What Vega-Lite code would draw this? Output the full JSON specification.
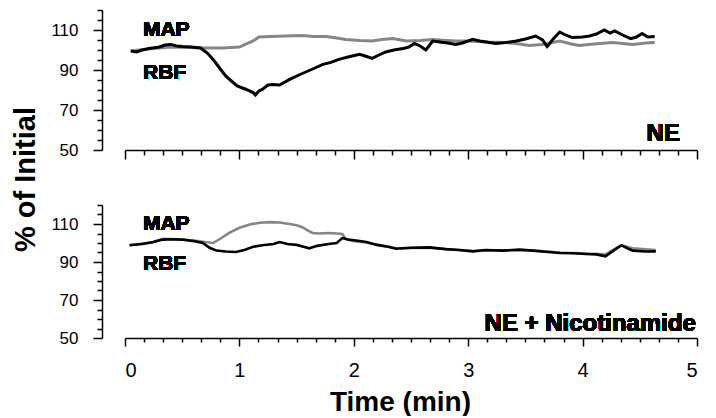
{
  "$schema": "https://vega.github.io/schema/vega-lite/v6.json",
  "padding": {"left": 11, "top": 9, "right": 6, "bottom": 0},
  "bounds": "flush",
  "spacing": 55,
  "config": {
    "view": {"stroke": null},
    "font": "Liberation Sans",
    "axis": {
      "grid": false,
      "domainColor": "#000000",
      "domainWidth": 1.5,
      "tickColor": "#000000",
      "tickWidth": 1.5,
      "labelColor": "#000000",
      "titleColor": "#000000",
      "labelFont": "Liberation Sans",
      "titleFont": "Liberation Sans"
    },
    "text": {"font": "Liberation Sans", "fontWeight": "bold", "color": "#000000"}
  },
  "datasets": {
    "ne": [
      {"s": "MAP", "t": 0.05, "v": 99.5}, {"s": "MAP", "t": 0.2, "v": 100.5}, {"s": "MAP", "t": 0.4, "v": 101.5}, {"s": "MAP", "t": 0.55, "v": 101.3}, {"s": "MAP", "t": 0.7, "v": 101}, {"s": "MAP", "t": 0.85, "v": 101}, {"s": "MAP", "t": 1.0, "v": 101.5}, {"s": "MAP", "t": 1.05, "v": 102.8}, {"s": "MAP", "t": 1.12, "v": 104.5}, {"s": "MAP", "t": 1.17, "v": 106.5}, {"s": "MAP", "t": 1.28, "v": 106.8}, {"s": "MAP", "t": 1.4, "v": 107}, {"s": "MAP", "t": 1.55, "v": 107.2}, {"s": "MAP", "t": 1.65, "v": 106.8}, {"s": "MAP", "t": 1.76, "v": 106.7}, {"s": "MAP", "t": 1.85, "v": 106}, {"s": "MAP", "t": 1.93, "v": 105.3}, {"s": "MAP", "t": 2.05, "v": 104.8}, {"s": "MAP", "t": 2.16, "v": 104.5}, {"s": "MAP", "t": 2.25, "v": 105.2}, {"s": "MAP", "t": 2.34, "v": 105.7}, {"s": "MAP", "t": 2.46, "v": 104.5}, {"s": "MAP", "t": 2.58, "v": 104.8}, {"s": "MAP", "t": 2.69, "v": 105.3}, {"s": "MAP", "t": 2.8, "v": 104.8}, {"s": "MAP", "t": 2.89, "v": 104.5}, {"s": "MAP", "t": 3.0, "v": 104.5}, {"s": "MAP", "t": 3.16, "v": 104}, {"s": "MAP", "t": 3.33, "v": 103.7}, {"s": "MAP", "t": 3.45, "v": 103}, {"s": "MAP", "t": 3.53, "v": 102.3}, {"s": "MAP", "t": 3.65, "v": 102.8}, {"s": "MAP", "t": 3.8, "v": 104.5}, {"s": "MAP", "t": 3.9, "v": 103}, {"s": "MAP", "t": 3.97, "v": 102.3}, {"s": "MAP", "t": 4.1, "v": 103}, {"s": "MAP", "t": 4.26, "v": 103.7}, {"s": "MAP", "t": 4.35, "v": 103.2}, {"s": "MAP", "t": 4.44, "v": 102.8}, {"s": "MAP", "t": 4.55, "v": 103.5}, {"s": "MAP", "t": 4.63, "v": 103.7},
      {"s": "RBF", "t": 0.05, "v": 99.5}, {"s": "RBF", "t": 0.1, "v": 99}, {"s": "RBF", "t": 0.15, "v": 100}, {"s": "RBF", "t": 0.21, "v": 100.7}, {"s": "RBF", "t": 0.3, "v": 101.5}, {"s": "RBF", "t": 0.35, "v": 102.5}, {"s": "RBF", "t": 0.4, "v": 102.8}, {"s": "RBF", "t": 0.45, "v": 102}, {"s": "RBF", "t": 0.5, "v": 101.7}, {"s": "RBF", "t": 0.58, "v": 101.5}, {"s": "RBF", "t": 0.66, "v": 101}, {"s": "RBF", "t": 0.72, "v": 98.5}, {"s": "RBF", "t": 0.77, "v": 95.3}, {"s": "RBF", "t": 0.82, "v": 91.5}, {"s": "RBF", "t": 0.88, "v": 87}, {"s": "RBF", "t": 0.93, "v": 84.5}, {"s": "RBF", "t": 0.98, "v": 82}, {"s": "RBF", "t": 1.05, "v": 80.5}, {"s": "RBF", "t": 1.12, "v": 78.7}, {"s": "RBF", "t": 1.14, "v": 77.5}, {"s": "RBF", "t": 1.17, "v": 79.5}, {"s": "RBF", "t": 1.2, "v": 80.3}, {"s": "RBF", "t": 1.25, "v": 82.5}, {"s": "RBF", "t": 1.29, "v": 82.8}, {"s": "RBF", "t": 1.35, "v": 82.5}, {"s": "RBF", "t": 1.44, "v": 85.3}, {"s": "RBF", "t": 1.52, "v": 87.5}, {"s": "RBF", "t": 1.6, "v": 89.5}, {"s": "RBF", "t": 1.66, "v": 91}, {"s": "RBF", "t": 1.73, "v": 92.8}, {"s": "RBF", "t": 1.8, "v": 93.8}, {"s": "RBF", "t": 1.87, "v": 95.3}, {"s": "RBF", "t": 1.95, "v": 96.5}, {"s": "RBF", "t": 2.05, "v": 97.8}, {"s": "RBF", "t": 2.1, "v": 97}, {"s": "RBF", "t": 2.16, "v": 95.8}, {"s": "RBF", "t": 2.22, "v": 97.5}, {"s": "RBF", "t": 2.28, "v": 99}, {"s": "RBF", "t": 2.35, "v": 100}, {"s": "RBF", "t": 2.43, "v": 100.7}, {"s": "RBF", "t": 2.48, "v": 101.5}, {"s": "RBF", "t": 2.53, "v": 103.3}, {"s": "RBF", "t": 2.58, "v": 102}, {"s": "RBF", "t": 2.63, "v": 100}, {"s": "RBF", "t": 2.69, "v": 104.5}, {"s": "RBF", "t": 2.75, "v": 104}, {"s": "RBF", "t": 2.82, "v": 103.5}, {"s": "RBF", "t": 2.89, "v": 102.8}, {"s": "RBF", "t": 2.95, "v": 103.5}, {"s": "RBF", "t": 3.04, "v": 105.3}, {"s": "RBF", "t": 3.1, "v": 104.5}, {"s": "RBF", "t": 3.16, "v": 104}, {"s": "RBF", "t": 3.24, "v": 103.3}, {"s": "RBF", "t": 3.33, "v": 103.7}, {"s": "RBF", "t": 3.42, "v": 104.5}, {"s": "RBF", "t": 3.5, "v": 105.5}, {"s": "RBF", "t": 3.59, "v": 107}, {"s": "RBF", "t": 3.65, "v": 105}, {"s": "RBF", "t": 3.69, "v": 101.7}, {"s": "RBF", "t": 3.75, "v": 106}, {"s": "RBF", "t": 3.8, "v": 109}, {"s": "RBF", "t": 3.85, "v": 107.5}, {"s": "RBF", "t": 3.91, "v": 106.2}, {"s": "RBF", "t": 4.0, "v": 106.5}, {"s": "RBF", "t": 4.06, "v": 107}, {"s": "RBF", "t": 4.12, "v": 108}, {"s": "RBF", "t": 4.19, "v": 110}, {"s": "RBF", "t": 4.24, "v": 108.5}, {"s": "RBF", "t": 4.28, "v": 109.5}, {"s": "RBF", "t": 4.35, "v": 107.5}, {"s": "RBF", "t": 4.42, "v": 105.7}, {"s": "RBF", "t": 4.47, "v": 106.5}, {"s": "RBF", "t": 4.52, "v": 108.3}, {"s": "RBF", "t": 4.57, "v": 106.5}, {"s": "RBF", "t": 4.63, "v": 106.7}
    ],
    "nic": [
      {"s": "MAP", "t": 0.04, "v": 98.8}, {"s": "MAP", "t": 0.24, "v": 100.4}, {"s": "MAP", "t": 0.33, "v": 102.2}, {"s": "MAP", "t": 0.5, "v": 101.8}, {"s": "MAP", "t": 0.62, "v": 101.2}, {"s": "MAP", "t": 0.7, "v": 100.5}, {"s": "MAP", "t": 0.77, "v": 100}, {"s": "MAP", "t": 0.84, "v": 102.5}, {"s": "MAP", "t": 0.91, "v": 105.3}, {"s": "MAP", "t": 1.0, "v": 108}, {"s": "MAP", "t": 1.09, "v": 109.7}, {"s": "MAP", "t": 1.18, "v": 110.7}, {"s": "MAP", "t": 1.26, "v": 111}, {"s": "MAP", "t": 1.35, "v": 110.8}, {"s": "MAP", "t": 1.44, "v": 110}, {"s": "MAP", "t": 1.5, "v": 109.3}, {"s": "MAP", "t": 1.55, "v": 108.3}, {"s": "MAP", "t": 1.6, "v": 106.5}, {"s": "MAP", "t": 1.64, "v": 105.3}, {"s": "MAP", "t": 1.7, "v": 105}, {"s": "MAP", "t": 1.78, "v": 105.3}, {"s": "MAP", "t": 1.85, "v": 105}, {"s": "MAP", "t": 1.9, "v": 104.7}, {"s": "MAP", "t": 1.93, "v": 102}, {"s": "MAP", "t": 2.0, "v": 101}, {"s": "MAP", "t": 2.11, "v": 100.3}, {"s": "MAP", "t": 2.37, "v": 97.2}, {"s": "MAP", "t": 2.66, "v": 97.5}, {"s": "MAP", "t": 3.04, "v": 95.8}, {"s": "MAP", "t": 3.3, "v": 96.2}, {"s": "MAP", "t": 3.56, "v": 96.2}, {"s": "MAP", "t": 3.8, "v": 95}, {"s": "MAP", "t": 4.03, "v": 94.5}, {"s": "MAP", "t": 4.2, "v": 94}, {"s": "MAP", "t": 4.3, "v": 97.5}, {"s": "MAP", "t": 4.34, "v": 98.8}, {"s": "MAP", "t": 4.44, "v": 97.2}, {"s": "MAP", "t": 4.55, "v": 96.7}, {"s": "MAP", "t": 4.64, "v": 96.3},
      {"s": "RBF", "t": 0.04, "v": 98.8}, {"s": "RBF", "t": 0.15, "v": 99.5}, {"s": "RBF", "t": 0.24, "v": 100.4}, {"s": "RBF", "t": 0.33, "v": 101.8}, {"s": "RBF", "t": 0.42, "v": 102}, {"s": "RBF", "t": 0.5, "v": 101.8}, {"s": "RBF", "t": 0.6, "v": 101}, {"s": "RBF", "t": 0.68, "v": 100}, {"s": "RBF", "t": 0.74, "v": 97.5}, {"s": "RBF", "t": 0.8, "v": 96}, {"s": "RBF", "t": 0.88, "v": 95.5}, {"s": "RBF", "t": 0.97, "v": 95.3}, {"s": "RBF", "t": 1.05, "v": 96.5}, {"s": "RBF", "t": 1.12, "v": 98}, {"s": "RBF", "t": 1.2, "v": 98.8}, {"s": "RBF", "t": 1.3, "v": 99.5}, {"s": "RBF", "t": 1.35, "v": 100.5}, {"s": "RBF", "t": 1.42, "v": 99.5}, {"s": "RBF", "t": 1.5, "v": 99}, {"s": "RBF", "t": 1.56, "v": 98}, {"s": "RBF", "t": 1.61, "v": 97.2}, {"s": "RBF", "t": 1.68, "v": 98.5}, {"s": "RBF", "t": 1.78, "v": 99.5}, {"s": "RBF", "t": 1.85, "v": 100}, {"s": "RBF", "t": 1.9, "v": 102.6}, {"s": "RBF", "t": 1.95, "v": 101.8}, {"s": "RBF", "t": 2.02, "v": 101.3}, {"s": "RBF", "t": 2.11, "v": 100.5}, {"s": "RBF", "t": 2.2, "v": 99}, {"s": "RBF", "t": 2.3, "v": 98}, {"s": "RBF", "t": 2.37, "v": 97}, {"s": "RBF", "t": 2.5, "v": 97.5}, {"s": "RBF", "t": 2.66, "v": 97.7}, {"s": "RBF", "t": 2.8, "v": 96.8}, {"s": "RBF", "t": 2.92, "v": 96.3}, {"s": "RBF", "t": 3.04, "v": 95.6}, {"s": "RBF", "t": 3.15, "v": 96.3}, {"s": "RBF", "t": 3.3, "v": 96}, {"s": "RBF", "t": 3.45, "v": 96.5}, {"s": "RBF", "t": 3.56, "v": 96}, {"s": "RBF", "t": 3.7, "v": 95.3}, {"s": "RBF", "t": 3.8, "v": 94.7}, {"s": "RBF", "t": 3.92, "v": 94.6}, {"s": "RBF", "t": 4.03, "v": 94.2}, {"s": "RBF", "t": 4.12, "v": 94}, {"s": "RBF", "t": 4.2, "v": 93}, {"s": "RBF", "t": 4.27, "v": 96}, {"s": "RBF", "t": 4.34, "v": 98.8}, {"s": "RBF", "t": 4.4, "v": 97}, {"s": "RBF", "t": 4.44, "v": 96}, {"s": "RBF", "t": 4.55, "v": 95.5}, {"s": "RBF", "t": 4.64, "v": 95.6}
    ]
  },
  "vconcat": [
    {
      "width": 572,
      "height": 140,
      "data": {"name": "ne"},
      "layer": [
        {
          "mark": {"type": "line", "strokeWidth": 3},
          "encoding": {
            "x": {"field": "t", "type": "quantitative", "scale": {"domain": [0, 5], "nice": false},
              "axis": {"orient": "bottom", "values": [0, 1, 2, 3, 4, 5], "labels": false, "title": null, "tickSize": 9}},
            "y": {"field": "v", "type": "quantitative", "scale": {"domain": [50, 120], "nice": false, "zero": false},
              "axis": {"orient": "left", "values": [50, 70, 90, 110], "offset": 23, "tickSize": 9, "labelPadding": 15, "labelFontSize": 17,
                "title": "% of Initial", "titleFontSize": 29, "titleFontWeight": "bold", "titlePadding": 10, "titleY": 169}},
            "color": {"field": "s", "type": "nominal", "scale": {"domain": ["MAP", "RBF"], "range": ["#868686", "#000000"]}, "legend": null}
          }
        },
        {
          "mark": {"type": "point", "opacity": 0},
          "encoding": {
            "x": {"field": "t", "type": "quantitative", "scale": {"domain": [0, 5], "nice": false},
              "axis": {"orient": "bottom", "values": [0.1667, 0.3333, 0.5, 0.6667, 0.8333, 1.1667, 1.3333, 1.5, 1.6667, 1.8333, 2.1667, 2.3333, 2.5, 2.6667, 2.8333, 3.1667, 3.3333, 3.5, 3.6667, 3.8333, 4.1667, 4.3333, 4.5, 4.6667, 4.8333], "labels": false, "domain": false, "title": null, "tickSize": 5}},
            "y": {"field": "v", "type": "quantitative", "scale": {"domain": [50, 120], "nice": false, "zero": false},
              "axis": {"orient": "left", "offset": 23, "values": [55, 60, 65, 75, 80, 85, 95, 100, 105, 115, 120], "labels": false, "domain": false, "title": null, "tickSize": 5}}
          }
        },
        {
          "mark": {"type": "text", "align": "left", "baseline": "middle", "fontSize": 21},
          "encoding": {"x": {"datum": 0.157, "type": "quantitative", "scale": {"domain": [0, 5], "nice": false}, "axis": null}, "y": {"datum": 110, "type": "quantitative", "scale": {"domain": [50, 120], "nice": false, "zero": false}, "axis": null}, "text": {"value": "MAP"}}
        },
        {
          "mark": {"type": "text", "align": "left", "baseline": "middle", "fontSize": 21},
          "encoding": {"x": {"datum": 0.157, "type": "quantitative", "scale": {"domain": [0, 5], "nice": false}, "axis": null}, "y": {"datum": 88.5, "type": "quantitative", "scale": {"domain": [50, 120], "nice": false, "zero": false}, "axis": null}, "text": {"value": "RBF"}}
        },
        {
          "mark": {"type": "text", "align": "right", "baseline": "middle", "fontSize": 24},
          "encoding": {"x": {"datum": 4.85, "type": "quantitative", "scale": {"domain": [0, 5], "nice": false}, "axis": null}, "y": {"datum": 58.2, "type": "quantitative", "scale": {"domain": [50, 120], "nice": false, "zero": false}, "axis": null}, "text": {"value": "NE"}}
        }
      ],
      "resolve": {"axis": {"x": "independent", "y": "independent"}}
    },
    {
      "width": 572,
      "height": 133,
      "data": {"name": "nic"},
      "layer": [
        {
          "mark": {"type": "line", "strokeWidth": 2.6},
          "encoding": {
            "x": {"field": "t", "type": "quantitative", "scale": {"domain": [0, 5], "nice": false},
              "axis": {"orient": "bottom", "values": [0, 1, 2, 3, 4, 5], "tickSize": 8, "labelFontSize": 20, "labelPadding": 14, "labelAngle": 0,
                "title": "Time (min)", "titleFontSize": 28, "titleFontWeight": "bold", "titleX": 275, "titleY": 72, "titleBaseline": "alphabetic"}},
            "y": {"field": "v", "type": "quantitative", "scale": {"domain": [50, 120], "nice": false, "zero": false},
              "axis": {"orient": "left", "values": [50, 70, 90, 110], "offset": 23, "tickSize": 9, "labelPadding": 15, "labelFontSize": 17, "title": null}},
            "color": {"field": "s", "type": "nominal", "scale": {"domain": ["MAP", "RBF"], "range": ["#868686", "#000000"]}, "legend": null}
          }
        },
        {
          "mark": {"type": "point", "opacity": 0},
          "encoding": {
            "x": {"field": "t", "type": "quantitative", "scale": {"domain": [0, 5], "nice": false},
              "axis": {"orient": "bottom", "values": [0.1667, 0.3333, 0.5, 0.6667, 0.8333, 1.1667, 1.3333, 1.5, 1.6667, 1.8333, 2.1667, 2.3333, 2.5, 2.6667, 2.8333, 3.1667, 3.3333, 3.5, 3.6667, 3.8333, 4.1667, 4.3333, 4.5, 4.6667, 4.8333], "labels": false, "domain": false, "title": null, "tickSize": 4}},
            "y": {"field": "v", "type": "quantitative", "scale": {"domain": [50, 120], "nice": false, "zero": false},
              "axis": {"orient": "left", "offset": 23, "values": [55, 60, 65, 75, 80, 85, 95, 100, 105, 115, 120], "labels": false, "domain": false, "title": null, "tickSize": 5}}
          }
        },
        {
          "mark": {"type": "text", "align": "left", "baseline": "middle", "fontSize": 21},
          "encoding": {"x": {"datum": 0.157, "type": "quantitative", "scale": {"domain": [0, 5], "nice": false}, "axis": null}, "y": {"datum": 110.1, "type": "quantitative", "scale": {"domain": [50, 120], "nice": false, "zero": false}, "axis": null}, "text": {"value": "MAP"}}
        },
        {
          "mark": {"type": "text", "align": "left", "baseline": "middle", "fontSize": 21},
          "encoding": {"x": {"datum": 0.157, "type": "quantitative", "scale": {"domain": [0, 5], "nice": false}, "axis": null}, "y": {"datum": 89, "type": "quantitative", "scale": {"domain": [50, 120], "nice": false, "zero": false}, "axis": null}, "text": {"value": "RBF"}}
        },
        {
          "mark": {"type": "text", "align": "right", "baseline": "middle", "fontSize": 24},
          "encoding": {"x": {"datum": 4.99, "type": "quantitative", "scale": {"domain": [0, 5], "nice": false}, "axis": null}, "y": {"datum": 57.5, "type": "quantitative", "scale": {"domain": [50, 120], "nice": false, "zero": false}, "axis": null}, "text": {"value": "NE + Nicotinamide"}}
        }
      ],
      "resolve": {"axis": {"x": "independent", "y": "independent"}}
    }
  ]
}
